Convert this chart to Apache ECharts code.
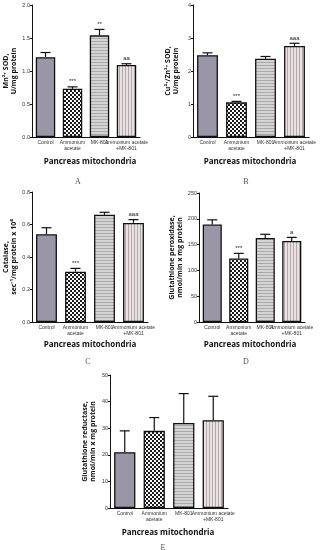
<!DOCTYPE html>
<html><head><meta charset="utf-8">
<script src="https://cdn.jsdelivr.net/npm/echarts@6/dist/echarts.min.js"></script>
<style>html,body{margin:0;padding:0;background:#fff}#c{width:325px;height:550px}</style>
</head><body><div id="c"></div>
<script>
const categories = ['Control', 'Ammonium\nacetate', 'MK-801', 'Ammonium acetate\n+MK-801'];
const mnSodMean = [1.21, 0.73, 1.54, 1.09];
const mnSodErr = [0.07, 0.03, 0.09, 0.02];
const mnSodSig = ['', '***', '**', 'aa'];
const cuZnSodMean = [2.48, 1.05, 2.37, 2.76];
const cuZnSodErr = [0.07, 0.03, 0.07, 0.08];
const cuZnSodSig = ['', '***', '', 'aaa'];
const catalaseMean = [0.54, 0.31, 0.66, 0.61];
const catalaseErr = [0.04, 0.02, 0.015, 0.02];
const catalaseSig = ['', '***', '', 'aaa'];
const gpxMean = [189, 123, 163, 157];
const gpxErr = [9, 10, 7, 7];
const gpxSig = ['', '***', '', 'a'];
const grMean = [21, 29, 32, 33];
const grErr = [8, 5, 11, 9];
const grSig = ['', '', '', ''];
const yTicksA = [0, 0.5, 1.0, 1.5, 2.0];
const yTicksB = [0, 1, 2, 3, 4];
const yTicksC = [0, 0.2, 0.4, 0.6, 0.8];
const yTicksD = [0, 50, 100, 150, 200, 250];
const yTicksE = [0, 10, 20, 30, 40, 50];
const xTitle = 'Pancreas mitochondria';

function pat(w, h, draw) {
  const c = document.createElement('canvas'); c.width = w; c.height = h;
  draw(c.getContext('2d')); return { image: c, repeat: 'repeat' };
}
const fills = [
  '#9a96a8',
  pat(4, 4, g => { g.fillStyle = '#fff'; g.fillRect(0,0,4,4); g.fillStyle = '#1a1a1a'; g.fillRect(0,0,2,2); g.fillRect(2,2,2,2); }),
  pat(1, 3, g => { g.fillStyle = '#d4d4d4'; g.fillRect(0,0,1,3); g.fillStyle = '#a9a9a9'; g.fillRect(0,2,1,1); }),
  pat(3, 1, g => { g.fillStyle = '#e8e2e2'; g.fillRect(0,0,3,1); g.fillStyle = '#b3a9ab'; g.fillRect(2,0,1,1); })
];

const panels = [
  { grid: {left: 32, top: 5, width: 108, height: 132}, ticks: yTicksA, step: 0.5, dec: 1, name: 'Mn²⁺ SOD,\nU/mg protein', mean: mnSodMean, err: mnSodErr, sig: mnSodSig, letter: 'A', lx: 78, ly: 178, tx: 90, ty: 158 },
  { grid: {left: 193, top: 5, width: 116, height: 132}, ticks: yTicksB, step: 1, dec: 0, name: 'Cu²⁺/Zn²⁺ SOD,\nU/mg protein', mean: cuZnSodMean, err: cuZnSodErr, sig: cuZnSodSig, letter: 'B', lx: 246, ly: 178, tx: 250, ty: 158 },
  { grid: {left: 32, top: 192, width: 116, height: 130}, ticks: yTicksC, step: 0.2, dec: 1, name: 'Catalase,\nsec⁻¹/mg protein x 10⁴', mean: catalaseMean, err: catalaseErr, sig: catalaseSig, letter: 'C', lx: 88, ly: 358, tx: 90, ty: 341 },
  { grid: {left: 199, top: 193, width: 106, height: 129}, ticks: yTicksD, step: 50, dec: 0, name: 'Glutathione peroxidase,\nnmol/min x mg protein', mean: gpxMean, err: gpxErr, sig: gpxSig, letter: 'D', lx: 246, ly: 358, tx: 250, ty: 341 },
  { grid: {left: 110, top: 375, width: 118, height: 133}, ticks: yTicksE, step: 10, dec: 0, name: 'Glutathione reductase,\nnmol/min x mg protein', mean: grMean, err: grErr, sig: grSig, letter: 'E', lx: 163, ly: 544, tx: 168, ty: 529 }
];

const grid = [], xAxis = [], yAxis = [], series = [], graphic = [];
panels.forEach((p, i) => {
  grid.push(p.grid);
  xAxis.push({
    type: 'category', gridIndex: i, data: categories,
    axisLine: { lineStyle: { color: '#111', width: 1 } }, axisTick: { show: false },
    axisLabel: { interval: 0, fontSize: 5, lineHeight: 6, color: '#333', margin: 3, fontFamily: 'Liberation Sans' }
  });
  yAxis.push({
    type: 'value', gridIndex: i, min: 0, max: p.ticks[p.ticks.length - 1], interval: p.step,
    name: p.name, nameLocation: 'middle', nameGap: 13, nameRotate: 90,
    nameTextStyle: { fontSize: 7, fontWeight: 'bold', color: '#111', lineHeight: 8, fontFamily: 'Open Sans' },
    axisLine: { show: true, lineStyle: { color: '#111', width: 1 } },
    axisTick: { show: true, length: 2, lineStyle: { color: '#111' } },
    splitLine: { show: false },
    axisLabel: { fontSize: 5.5, color: '#333', margin: 2, fontFamily: 'Liberation Sans', formatter: v => v.toFixed(p.dec) }
  });
  series.push({
    type: 'bar', xAxisIndex: i, yAxisIndex: i, barWidth: '72%',
    data: p.mean.map((v, k) => ({ value: v, itemStyle: { color: fills[k], borderColor: '#111', borderWidth: 1.3 } }))
  });
  series.push({
    type: 'custom', xAxisIndex: i, yAxisIndex: i, z: 5,
    data: p.mean.map((v, k) => [k, v, v + p.err[k], p.sig[k]]),
    renderItem: (params, api) => {
      const base = api.coord([api.value(0), api.value(1)]);
      const top = api.coord([api.value(0), api.value(2)]);
      const x = base[0], cw = 5;
      const s = p.sig[params.dataIndex];
      const children = [
        { type: 'line', shape: { x1: x, y1: base[1], x2: x, y2: top[1] }, style: { stroke: '#111', lineWidth: 1.2 } },
        { type: 'line', shape: { x1: x - cw, y1: top[1], x2: x + cw, y2: top[1] }, style: { stroke: '#111', lineWidth: 1.2 } }
      ];
      if (s) children.push({ type: 'text', style: { text: s, x: x, y: top[1] - 2, textAlign: 'center', textVerticalAlign: 'bottom', fontSize: 6, fill: '#222', fontFamily: 'Liberation Sans' } });
      return { type: 'group', children };
    }
  });
  graphic.push({ type: 'text', x: p.tx, y: p.ty, style: { text: xTitle, fontSize: 8, fontWeight: 'bold', fill: '#111', fontFamily: 'Open Sans', textAlign: 'center', textVerticalAlign: 'top' } });
  graphic.push({ type: 'text', x: p.lx, y: p.ly, style: { text: p.letter, fontSize: 8, fill: '#555', fontFamily: 'Liberation Serif', textAlign: 'center', textVerticalAlign: 'top' } });
});

const chart = echarts.init(document.getElementById('c'), null, { renderer: 'canvas' });
chart.setOption({ animation: false, grid, xAxis, yAxis, series, graphic });
</script>
</body></html>
